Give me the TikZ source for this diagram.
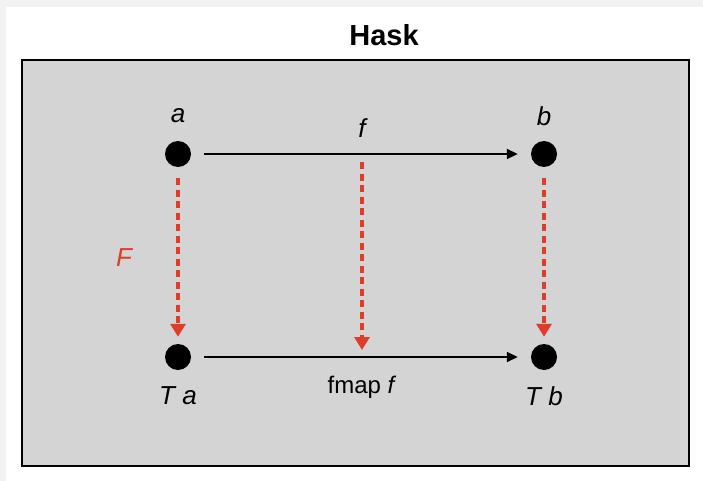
\documentclass[tikz,border=0pt]{standalone}
\usepackage{fontspec}
\setmainfont{Liberation Sans}
\usetikzlibrary{arrows.meta}
\definecolor{outerbg}{HTML}{F2F2F2}
\definecolor{panel}{HTML}{D4D4D4}
\definecolor{fred}{HTML}{E03C2A}
\begin{document}
\begin{tikzpicture}[x=1pt,y=-1pt,
  dot/.style={circle,fill=black,inner sep=0pt,minimum size=26pt},
  lbl/.style={font=\fontsize{26}{28}\selectfont\itshape},
  mapto/.style={line width=1.6pt,-{Triangle[length=11pt,width=10pt]},shorten <=13pt,shorten >=13pt},
  functor/.style={draw=fred,line width=3.2pt,dash pattern=on 7pt off 4.5pt,-{Triangle[length=13pt,width=15pt]}}]
\useasboundingbox (0,0) rectangle (703,481);
\fill[outerbg] (0,0) rectangle (703,481);
\fill[white] (6,7) rectangle (703,481);
\draw[fill=panel,line width=1.3pt] (22,60) rectangle (689,466);
\node[font=\fontsize{29}{31}\selectfont\bfseries] (title) at (384,35) {Hask};
\node[dot] (a) at (178,154) {};
\node[dot] (b) at (544,154) {};
\node[dot] (Ta) at (178,357) {};
\node[dot] (Tb) at (544,357) {};
\node[lbl] (la) at (178,116) {a};
\node[lbl] (lb) at (544,116) {b};
\node[lbl] (lf) at (362,128) {f};
\node[lbl] (lTa) at (178,396) {T a};
\node[lbl] (lTb) at (544,396) {T b};
\node[font=\fontsize{24}{26}\selectfont] (lfmap) at (362,387) {fmap \textit{f}};
\node[lbl,text=fred] (lF) at (124,258) {F};
\draw[mapto] (a) -- (b);
\draw[mapto] (Ta) -- (Tb);
\coordinate (mtop) at (362,162);
\coordinate (mbot) at (362,350);
\draw[functor,shorten <=11pt,shorten >=7pt] (a) -- (Ta);
\draw[functor,shorten <=11pt,shorten >=7pt] (b) -- (Tb);
\draw[functor] (mtop) -- (mbot);
\end{tikzpicture}
\end{document}
